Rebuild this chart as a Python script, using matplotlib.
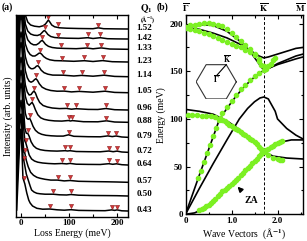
import numpy as np
import matplotlib
matplotlib.use('Agg')
import matplotlib.pyplot as plt
from matplotlib.ticker import MultipleLocator

plt.rcParams['font.family'] = ['Liberation Serif', 'DejaVu Serif']
plt.rcParams['font.weight'] = 'bold'
plt.rcParams['mathtext.fontset'] = 'stix'

# ---------------- panel (a): loss spectra ----------------
q_labels = ['1.52', '1.42', '1.33', '1.23', '1.14', '1.05', '0.96',
            '0.88', '0.79', '0.72', '0.64', '0.57', '0.50', '0.43']
# vertical offsets of each spectrum (arb. units)
offsets = [187.7, 177.7, 167.4, 154.7, 140.0, 124.0, 106.7,
           94.4, 79.4, 64.4, 51.7, 34.4, 20.7, 5.7]

loss_e = [
    [-9, -5, -2, 0, 2, 5, 9, 14, 20, 28, 38, 46, 51, 54, 57, 60, 64, 70, 80, 95, 120, 150, 161, 172, 200, 222],
    [-9, -5, -2, 0, 2, 5, 9, 14, 20, 27, 34, 40, 44, 47, 49, 52, 56, 62, 70, 80, 95, 120, 139, 150, 165, 180, 200, 222],
    [-9, -5, -2, 0, 2, 5, 9, 14, 20, 26, 32, 37, 41, 44, 47, 51, 57, 65, 75, 90, 115, 137, 150, 167, 185, 222],
    [-9, -5, -2, 0, 2, 5, 9, 14, 19, 24, 29, 34, 37, 40, 43, 47, 53, 60, 70, 85, 110, 132, 150, 170, 190, 222],
    [-9, -5, -2, 0, 2, 5, 9, 13, 17, 21, 25, 29, 32, 35, 38, 42, 48, 56, 66, 88, 110, 126, 150, 173, 195, 222],
    [-9, -5, -2, 0, 2, 5, 9, 13, 17, 21, 25, 28, 31, 34, 38, 44, 52, 62, 75, 90, 105, 121, 150, 175, 195, 222],
    [-9, -5, -2, 0, 2, 5, 9, 13, 17, 21, 24, 27, 30, 34, 39, 46, 55, 65, 80, 95, 105, 115, 140, 160, 177, 195, 222],
    [-9, -5, -2, 0, 2, 5, 9, 13, 17, 20, 23, 26, 30, 35, 41, 48, 58, 70, 85, 99, 103, 107, 130, 160, 178, 195, 222],
    [-9, -5, -2, 0, 2, 5, 9, 12, 15, 18, 21, 25, 30, 36, 43, 52, 63, 75, 88, 99, 110, 140, 165, 181, 190, 198, 210, 222],
    [-9, -5, -2, 0, 2, 5, 8, 11, 14, 17, 21, 26, 32, 40, 50, 62, 75, 92, 97, 102, 115, 140, 165, 183, 192, 200, 210, 222],
    [-9, -5, -2, 0, 2, 5, 8, 10, 13, 17, 22, 28, 35, 45, 57, 70, 85, 95, 102, 115, 140, 165, 183, 191, 199, 210, 222],
    [-9, -5, -2, 0, 2, 4, 6, 8, 11, 15, 20, 26, 33, 40, 50, 62, 76, 90, 102, 120, 150, 180, 200, 222],
    [-9, -5, -2, 0, 2, 4, 6, 8, 11, 15, 19, 22, 27, 33, 40, 50, 67, 80, 95, 104, 120, 150, 180, 200, 222],
    [-9, -5, -2, 0, 2, 4, 6, 8, 12, 16, 19, 24, 33, 45, 60, 75, 90, 104, 120, 150, 175, 189, 195, 200, 210, 222],
]
intensity = [
    [1, 35, 70, 75, 70, 32, 14, 7, 4, 2.8, 2.2, 3.2, 5, 7, 9, 7, 4, 2.2, 1.2, 0.8, 0.5, 0.3, 1.2, 0.3, 0.1, 0],
    [1, 35, 70, 75, 70, 33, 15, 8, 5, 3.8, 3.5, 4.5, 6.5, 8, 8.5, 7, 4.5, 2.5, 1.5, 1.1, 0.8, 0.6, 1.3, 0.5, 1.3, 0.3, 0.1, 0],
    [1, 35, 70, 75, 70, 34, 17, 9.5, 6, 4.5, 4.5, 6, 8, 9, 7.5, 5, 3, 1.8, 1.2, 0.9, 0.6, 1.3, 0.5, 1.4, 0.3, 0],
    [1, 35, 70, 75, 70, 35, 18, 11, 7.5, 6, 6, 7.5, 8.7, 9, 7.8, 5.5, 3.5, 2.2, 1.4, 1.2, 0.7, 1.3, 0.5, 1.4, 0.3, 0],
    [1, 38, 70, 75, 70, 37, 20, 13, 9.5, 8, 8, 9, 10.5, 11, 9.5, 6.5, 4, 2.5, 1.6, 1.5, 0.7, 1.3, 0.5, 1.5, 0.3, 0],
    [1, 40, 72, 78, 72, 40, 22, 15, 11.5, 10.5, 11.5, 13, 14, 12.5, 9, 5.5, 3.5, 2.2, 1.5, 1.6, 0.8, 1.3, 0.5, 1.5, 0.3, 0],
    [1, 40, 72, 78, 72, 42, 25, 18, 15, 15.5, 17.5, 19, 17, 12, 7.5, 4.5, 3, 2, 1.4, 1.6, 0.8, 1.3, 0.6, 0.5, 1.5, 0.3, 0],
    [1, 42, 74, 80, 74, 44, 26, 19, 17, 18.5, 20, 17.5, 12.5, 7.5, 4.5, 3, 2, 1.4, 1.2, 1.8, 1.3, 1.7, 0.6, 0.5, 1.5, 0.3, 0],
    [1, 42, 74, 80, 74, 45, 24, 19, 18, 19, 16, 11, 7, 4.5, 3, 2, 1.5, 1.2, 1.2, 2.5, 1, 0.6, 0.5, 1.4, 0.7, 1.3, 0.3, 0],
    [1, 45, 76, 82, 76, 45, 24, 19, 19, 16, 10.5, 6.5, 4, 2.6, 1.8, 1.4, 1.2, 1.6, 1.3, 1.6, 0.8, 0.6, 0.5, 1.3, 0.6, 1.2, 0.3, 0],
    [1, 45, 76, 82, 76, 40, 24, 22, 17, 10, 6, 4, 2.8, 2, 1.5, 1.2, 1.5, 1.1, 1.6, 0.8, 0.6, 0.5, 1.3, 0.7, 1.2, 0.3, 0],
    [1, 45, 76, 82, 72, 42, 30, 29, 22, 15.5, 10, 7, 5, 4, 3, 2.2, 2.2, 1.4, 1.8, 1, 0.7, 0.5, 0.3, 0],
    [1, 45, 76, 82, 65, 40, 35, 30, 22, 16, 10, 6, 4, 2.7, 2.2, 1.8, 1.8, 1.2, 1, 1.5, 0.8, 0.5, 0.4, 0.3, 0],
    [1, 45, 76, 82, 60, 33, 30, 27, 18, 11, 8, 5, 2.7, 1.8, 2, 1.2, 0.8, 1.3, 0.6, 0.4, 0.3, 1.1, 0.6, 1.1, 0.2, 0],
]
# energies of the loss features marked with triangles
marks = [
    [57, 77, 161],
    [49, 78, 139, 165],
    [44, 83, 137, 167],
    [40, 85, 132, 170],
    [35, 88, 126, 173],
    [31, 90, 121, 175],
    [27, 95, 115, 177],
    [23, 99, 107, 178],
    [18, 99, 181, 198],
    [14, 92, 102, 183, 200],
    [10, 85, 102, 183, 199],
    [8, 76, 102],
    [6, 67, 104],
    [6, 60, 104, 189, 200],
]

# ---------------- panel (b): dispersion ----------------
k_point = 1.703
m_point = 2.554

za_q = [0, 0.2, 0.4, 0.6, 0.8, 1.0, 1.2, 1.4, 1.6, 1.703, 1.9, 2.1, 2.3, 2.554]
za_e = [0, 1.5, 6, 13, 22, 31, 40, 50, 60, 65, 72, 76, 78, 78]
zo_q = [0, 0.3, 0.6, 0.9, 1.2, 1.5, 1.703, 1.9, 2.2, 2.554]
zo_e = [110, 108, 105, 98, 88, 76, 66, 61, 59, 58]
ta_q = [0, 0.3, 0.6, 0.9, 1.17, 1.35, 1.5, 1.62, 1.703, 1.8, 1.95, 2.0, 2.2, 2.4, 2.554]
ta_e = [0, 27, 53, 78, 100, 111, 118, 122, 123, 121, 108, 100, 90, 83, 79]
la_q = [0, 0.3, 0.6, 0.74, 0.9, 1.1, 1.3, 1.5, 1.703, 1.85, 2.0, 2.2, 2.4, 2.554]
la_e = [0, 41, 81, 100, 111, 124, 135, 144, 151, 154, 157, 160, 163, 165]
lo_q = [0, 0.3, 0.6, 0.9, 1.2, 1.4, 1.55, 1.703, 1.85, 2.0, 2.2, 2.4, 2.554]
lo_e = [197, 199, 198, 192, 181, 171, 161, 151, 154, 158, 162, 166, 168]
to_q = [0, 0.3, 0.6, 0.9, 1.2, 1.4, 1.6, 1.703, 1.8, 2.0, 2.2, 2.4, 2.554]
to_e = [196, 194, 190, 185, 178, 172, 166, 164, 165, 168, 171, 174, 175]

# measured points (green)
exp_za_q = [0.3, 0.35, 0.4, 0.45, 0.5, 0.55, 0.6, 0.65, 0.7, 0.75, 0.8, 0.85, 0.9, 0.95, 1.0,
            1.05, 1.1, 1.15, 1.2, 1.25, 1.3, 1.35, 1.4, 1.45, 1.5, 1.55, 1.6, 1.65, 1.7,
            1.75, 1.8, 1.85, 1.9, 1.95, 2.0, 2.05, 2.1]
exp_za_e = [4, 5.5, 7, 8.5, 10, 12, 14, 16.5, 19, 21.5, 24, 26, 28, 30, 32,
            34, 36, 38.5, 41, 43.5, 46, 48.5, 51, 53.5, 56, 58.5, 61, 63, 65,
            67, 69, 70.5, 72, 73.5, 75, 76, 77]
exp_zo_q = [0.05, 0.15, 0.25, 0.35, 0.45, 0.55, 0.65, 0.75, 0.8, 0.85, 0.9, 0.95, 1.0, 1.05,
            1.1, 1.15, 1.2, 1.25, 1.3, 1.35, 1.4, 1.45, 1.5, 1.55, 1.6, 1.65, 1.7, 1.8, 1.9, 2.0, 2.05, 2.1]
exp_zo_e = [104, 104, 104, 103, 103, 103, 102, 101, 99, 97.5, 96, 94, 92.5, 91,
            89.5, 88, 86, 84.5, 83, 81, 79, 77.5, 76, 74, 71, 68.5, 66, 62, 59.5, 57.5, 57, 57]
exp_la_q = [0.27, 0.33, 0.4, 0.47, 0.53, 0.6, 0.67, 0.73, 0.8, 0.9, 1.0, 1.1, 1.2, 1.3,
            1.4, 1.5, 1.6, 1.7, 1.75, 1.8, 1.85, 1.9, 1.95]
exp_la_e = [38, 45, 55, 64, 73, 82, 91, 99, 106, 113, 119, 125, 131, 136,
            141, 145, 148, 151, 152, 155, 158, 162, 164]
exp_lo_q = [0.0, 0.1, 0.2, 0.3, 0.4, 0.5, 0.6, 0.7, 0.8, 0.9, 1.0, 1.1, 1.2, 1.3, 1.4, 1.5, 1.6, 1.65]
exp_lo_e = [196, 198, 199, 200, 201, 201, 200, 199, 197, 194, 190, 186, 182, 178, 173, 168, 161, 157]
exp_to_q = [0.0, 0.1, 0.2, 0.3, 0.4, 0.5, 0.6, 0.7, 0.8, 0.9, 1.0, 1.1, 1.2, 1.3, 1.4, 1.5, 1.6, 1.7]
exp_to_e = [195, 194, 193, 192, 190, 189, 187, 185, 183, 181, 179, 177, 175, 172, 170, 167, 163, 155]

fig = plt.figure(figsize=(3.07, 2.41), dpi=100)

# ---- (a)
ax = fig.add_axes([15.5 / 307, 24.3 / 241, 112.8 / 307, 201.7 / 241])
for i in range(len(q_labels)):
    e = np.array(loss_e[i])
    y = np.array(intensity[i]) + offsets[i]
    ax.plot(e, y, color='black', lw=1.1, solid_joinstyle='round')
    m = np.array(marks[i])
    ax.plot(m, np.interp(m, e, y) + 3.3, 'v', ms=3, mfc='#d8383a', mec='#8a1d1d', mew=0.4)
    ax.text(1.07, offsets[i] + 1.5, q_labels[i], transform=ax.get_yaxis_transform(),
            fontsize=6.5, va='center', ha='left', clip_on=False)
ax.text(1.10, 208, r'$\mathbf{Q_1}$', transform=ax.get_yaxis_transform(), fontsize=7,
        va='center', ha='left', clip_on=False)
ax.text(1.10, 197.5, '(Å$^{-1}$)', transform=ax.get_yaxis_transform(), fontsize=4.2,
        va='center', ha='left', clip_on=False)

ax.set_xlim(-11.5, 223.5)
ax.set_ylim(0, 201.7)
ax.set_yticks([])
ax.set_xticks([0, 100, 200])
ax.xaxis.set_minor_locator(MultipleLocator(50))
ax.tick_params(axis='x', which='both', direction='in', top=True, labelsize=6.5, pad=2,
               length=3, width=0.8)
ax.tick_params(axis='x', which='minor', length=2)
ax.set_xlabel('Loss Energy (meV)', fontsize=7, labelpad=1)
ax.set_ylabel('Intensity (arb. units)', fontsize=7, labelpad=2)
for s in ax.spines.values():
    s.set_linewidth(1.0)
fig.text(2 / 307, 1 - 7 / 241, '(a)', fontsize=7, va='center', ha='left')

# ---- (b)
bx = fig.add_axes([185.5 / 307, 26.7 / 241, 117.5 / 307, 199.3 / 241])
for qq, ee in [(za_q, za_e), (zo_q, zo_e), (ta_q, ta_e), (la_q, la_e), (lo_q, lo_e), (to_q, to_e)]:
    bx.plot(qq, ee, color='black', lw=1.2, zorder=2)
green = '#7cf023'
for qq, ee in [(exp_za_q, exp_za_e), (exp_zo_q, exp_zo_e), (exp_la_q, exp_la_e),
               (exp_lo_q, exp_lo_e), (exp_to_q, exp_to_e)]:
    bx.plot(qq, ee, 'o', ms=3.0, color=green, mec=green, zorder=3)
bx.axvline(k_point, color='black', lw=0.7, ls=(0, (3, 2)), zorder=1)

bx.set_xlim(0, m_point)
bx.set_ylim(0, 209)
bx.set_xticks([0, 1.0, 2.0])
bx.set_xticklabels(['0', '1.0', '2.0'])
bx.set_yticks([0, 50, 100, 150, 200])
bx.xaxis.set_minor_locator(MultipleLocator(0.5))
bx.yaxis.set_minor_locator(MultipleLocator(25))
bx.tick_params(which='both', direction='in', top=True, right=True, labelsize=6.5, pad=2,
               length=3, width=0.8)
bx.tick_params(which='minor', length=1.8)
bx.set_xlabel('Wave Vectors  (Å$^{-1}$)', fontsize=7, labelpad=1)
bx.set_ylabel('Energy (meV)', fontsize=7, labelpad=2)
for s in bx.spines.values():
    s.set_linewidth(1.0)

tr = bx.get_xaxis_transform()
for xpos, lab in [(0, r'$\overline{\Gamma}$'), (k_point, r'$\overline{\mathrm{K}}$'),
                  (m_point - 0.06, r'$\overline{\mathrm{M}}$')]:
    bx.text(xpos, 1.035, lab, transform=tr, fontsize=6.5, ha='center', va='center')

bx.annotate('ZA', xy=(1.13, 29), xytext=(1.43, 14), fontsize=7, ha='center', va='center',
            arrowprops=dict(arrowstyle='-|>', color='black', lw=1.2, mutation_scale=7,
                            shrinkA=4, shrinkB=0))
fig.text(157 / 307, 1 - 7 / 241, '(b)', fontsize=7, va='center', ha='left')

# Brillouin zone inset
hx = fig.add_axes([195.7 / 307, 141.7 / 241, 41 / 307, 35 / 241])
ang = np.deg2rad(np.arange(0, 420, 60))
hx.plot(np.cos(ang), np.sin(ang), color='#333333', lw=0.8)
hx.plot([0.05, 0.5], [0.35, np.sin(np.pi / 3)], color='black', lw=0.8)
hx.text(0.0, 0.08, r'$\overline{\Gamma}$', fontsize=5.5, ha='center', va='center')
hx.text(0.55, 1.12, r'$\overline{\mathrm{K}}$', fontsize=5.5, ha='center', va='center', clip_on=False)
hx.set_xlim(-1.02, 1.02)
hx.set_ylim(-0.885, 0.885)
hx.axis('off')

fig.savefig('out.png', dpi=100)
